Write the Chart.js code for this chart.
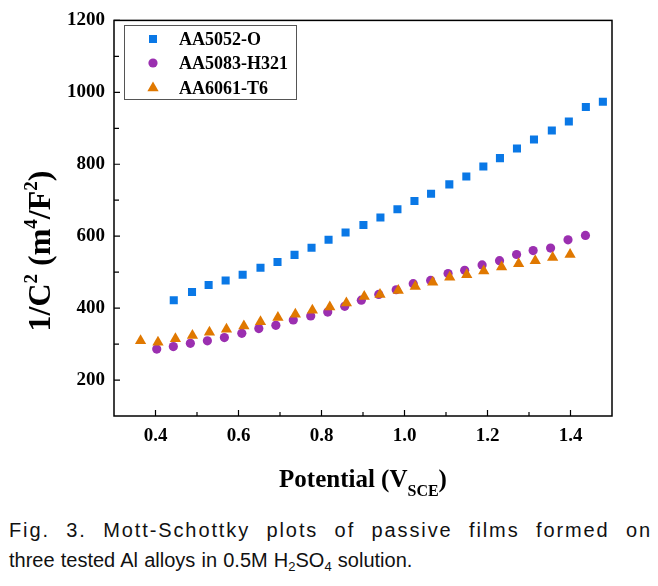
<!DOCTYPE html>
<html>
<head>
<meta charset="utf-8">
<script src="https://cdn.jsdelivr.net/npm/chart.js@4.4.1/dist/chart.umd.min.js"></script>
<style>
  body { margin: 0; background: #fff; }
  #wrap { position: relative; width: 658px; height: 586px; }
  #caption {
    position: absolute; left: 9px; top: 515px; width: 643px;
    font: 20px 'Liberation Sans', Arial, sans-serif; line-height: 30px; color: #111;
  }
  #caption .l1 { text-align: justify; text-align-last: justify; letter-spacing: 1.9px; }
  #caption .l2 { word-spacing: 0.6px; }
  #caption sub { font-size: 13px; vertical-align: -4px; line-height: 0; }
</style>
</head>
<body>
<div id="wrap">
  <canvas id="msChart" width="658" height="500"></canvas>
  <div id="caption">
    <div class="l1">Fig. 3. Mott-Schottky plots of passive films formed on</div>
    <div class="l2">three tested Al alloys in 0.5M H<sub>2</sub>SO<sub>4</sub> solution.</div>
  </div>
</div>
<script>
// series values
const seriesNames = ['AA5052-O', 'AA5083-H321', 'AA6061-T6'];

const potential5052 = [0.444, 0.488, 0.528, 0.569, 0.610, 0.653, 0.694, 0.735, 0.776, 0.817, 0.858, 0.901, 0.942,
  0.983, 1.024, 1.064, 1.108, 1.149, 1.190, 1.230, 1.271, 1.312, 1.355, 1.396, 1.437, 1.478];
const invC2_5052 = [422, 445, 464, 477, 493, 512, 528, 548, 568, 590, 610, 631, 652,
  675, 698, 718, 744, 766, 794, 817, 844, 869, 894, 919, 959, 974];

const potential5083 = [0.403, 0.443, 0.484, 0.525, 0.566, 0.608, 0.649, 0.690, 0.732, 0.774, 0.815, 0.856, 0.896,
  0.938, 0.980, 1.021, 1.063, 1.105, 1.145, 1.187, 1.229, 1.270, 1.310, 1.352, 1.394, 1.436];
const invC2_5083 = [286, 293, 302, 309, 318, 330, 343, 352, 367, 378, 389, 405, 422,
  438, 451, 468, 477, 496, 505, 520, 532, 549, 560, 567, 590, 602];

const potential6061 = [0.364, 0.406, 0.448, 0.489, 0.530, 0.571, 0.613, 0.653, 0.695, 0.737, 0.778, 0.820, 0.860,
  0.903, 0.941, 0.985, 1.026, 1.068, 1.109, 1.150, 1.191, 1.234, 1.275, 1.315, 1.357, 1.399];
const invC2_6061 = [309, 305, 315, 324, 333, 341, 350, 362, 374, 383, 394, 403, 414,
  432, 438, 449, 460, 472, 486, 493, 503, 514, 523, 532, 541, 549];

const xTicks = [0.4, 0.6, 0.8, 1.0, 1.2, 1.4];
const xMinorTicks = [0.5, 0.7, 0.9, 1.1, 1.3];
const yTicks = [200, 400, 600, 800, 1000, 1200];
const yMinorTicks = [300, 500, 700, 900, 1100];

const toPoints = (xs, ys) => xs.map((x, i) => ({ x: x, y: ys[i] }));

const serif = "'Liberation Serif', 'Times New Roman', serif";

// frame, inward ticks, legend box and axis titles
const decor = {
  id: 'decor',
  afterDraw(chart) {
    const ctx = chart.ctx;
    const a = chart.chartArea;
    const xs = chart.scales.x, ys = chart.scales.y;
    ctx.save();
    ctx.strokeStyle = '#000';
    ctx.lineWidth = 1.5;
    ctx.strokeRect(a.left, a.top, a.right - a.left, a.bottom - a.top);

    ctx.lineWidth = 1.2;
    ctx.beginPath();
    xTicks.forEach(v => { const p = xs.getPixelForValue(v); ctx.moveTo(p, a.bottom); ctx.lineTo(p, a.bottom - 6); });
    xMinorTicks.forEach(v => { const p = xs.getPixelForValue(v); ctx.moveTo(p, a.bottom); ctx.lineTo(p, a.bottom - 4); });
    yTicks.forEach(v => { const p = ys.getPixelForValue(v); ctx.moveTo(a.left, p); ctx.lineTo(a.left + 6, p); });
    yMinorTicks.forEach(v => { const p = ys.getPixelForValue(v); ctx.moveTo(a.left, p); ctx.lineTo(a.left + 5, p); });
    ctx.stroke();

    // legend
    ctx.lineWidth = 1;
    ctx.strokeStyle = '#555';
    ctx.strokeRect(124.5, 25.5, 172, 74);
    const rowsY = [39, 63, 88];
    chart.data.datasets.forEach((ds, i) => {
      ctx.fillStyle = ds.backgroundColor;
      ctx.strokeStyle = ds.borderColor;
      Chart.helpers.drawPoint(ctx, { pointStyle: ds.pointStyle, radius: ds.pointRadius, borderWidth: 0 }, 153, rowsY[i]);
      ctx.fillStyle = '#000';
      ctx.font = 'bold 18px ' + serif;
      ctx.textBaseline = 'middle';
      ctx.textAlign = 'left';
      ctx.fillText(ds.label, 179, rowsY[i] + 1);
    });

    // x title
    ctx.fillStyle = '#000';
    ctx.textBaseline = 'alphabetic';
    ctx.textAlign = 'left';
    const big = 'bold 25px ' + serif, small = 'bold 16px ' + serif;
    const xParts = [['Potential (V', big, 0], ['SCE', small, 9], [')', big, 0]];
    let w = 0;
    xParts.forEach(p => { ctx.font = p[1]; w += ctx.measureText(p[0]).width; });
    let cx = 363 - w / 2;
    xParts.forEach(p => { ctx.font = p[1]; ctx.fillText(p[0], cx, 487 + p[2]); cx += ctx.measureText(p[0]).width; });

    // y title (rotated)
    const ybig = 'bold 32px ' + serif, ysmall = 'bold 19px ' + serif;
    const yParts = [['1/C', ybig, 0], ['2', ysmall, -13], [' (m', ybig, 0], ['4', ysmall, -13],
      ['/F', ybig, 0], ['2', ysmall, -13], [')', ybig, 0]];
    w = 0;
    yParts.forEach(p => { ctx.font = p[1]; w += ctx.measureText(p[0]).width; });
    ctx.translate(50, 251);
    ctx.rotate(-Math.PI / 2);
    cx = -w / 2;
    yParts.forEach(p => { ctx.font = p[1]; ctx.fillText(p[0], cx, p[2]); cx += ctx.measureText(p[0]).width; });
    ctx.restore();
  }
};

new Chart(document.getElementById('msChart'), {
  type: 'scatter',
  data: {
    datasets: [{
      label: seriesNames[0],
      data: toPoints(potential5052, invC2_5052),
      pointStyle: 'rect',
      pointRadius: 5.7,
      backgroundColor: '#0a78e6',
      borderColor: '#0a78e6',
      borderWidth: 0,
      order: 2
    }, {
      label: seriesNames[1],
      data: toPoints(potential5083, invC2_5083),
      pointStyle: 'circle',
      pointRadius: 4.6,
      backgroundColor: '#9b2fb0',
      borderColor: '#9b2fb0',
      borderWidth: 0,
      order: 1
    }, {
      label: seriesNames[2],
      data: toPoints(potential6061, invC2_6061),
      pointStyle: 'triangle',
      pointRadius: 6.5,
      backgroundColor: '#e07800',
      borderColor: '#e07800',
      borderWidth: 0,
      order: 0
    }]
  },
  options: {
    responsive: false,
    animation: false,
    layout: {
      padding: { top: 18, right: 46, bottom: 0, left: 0 }
    },
    plugins: {
      legend: { display: false },
      tooltip: { enabled: false }
    },
    scales: {
      x: {
        type: 'linear',
        min: 0.3,
        max: 1.5,
        grid: { display: false, drawTicks: false },
        border: { display: false },
        afterFit: s => { s.height = 84; },
        afterBuildTicks: s => { s.ticks = xTicks.map(v => ({ value: v })); },
        ticks: {
          color: '#000',
          padding: 9,
          font: { family: serif, size: 19, weight: 'bold' },
          callback: v => v.toFixed(1)
        }
      },
      y: {
        type: 'linear',
        min: 100,
        max: 1200,
        grid: { display: false, drawTicks: false },
        border: { display: false },
        afterFit: s => { s.width = 114; },
        afterBuildTicks: s => { s.ticks = yTicks.map(v => ({ value: v })); },
        ticks: {
          color: '#000',
          padding: 9,
          font: { family: serif, size: 19, weight: 'bold' },
          callback: v => String(v)
        }
      }
    }
  },
  plugins: [decor]
});
</script>
</body>
</html>
